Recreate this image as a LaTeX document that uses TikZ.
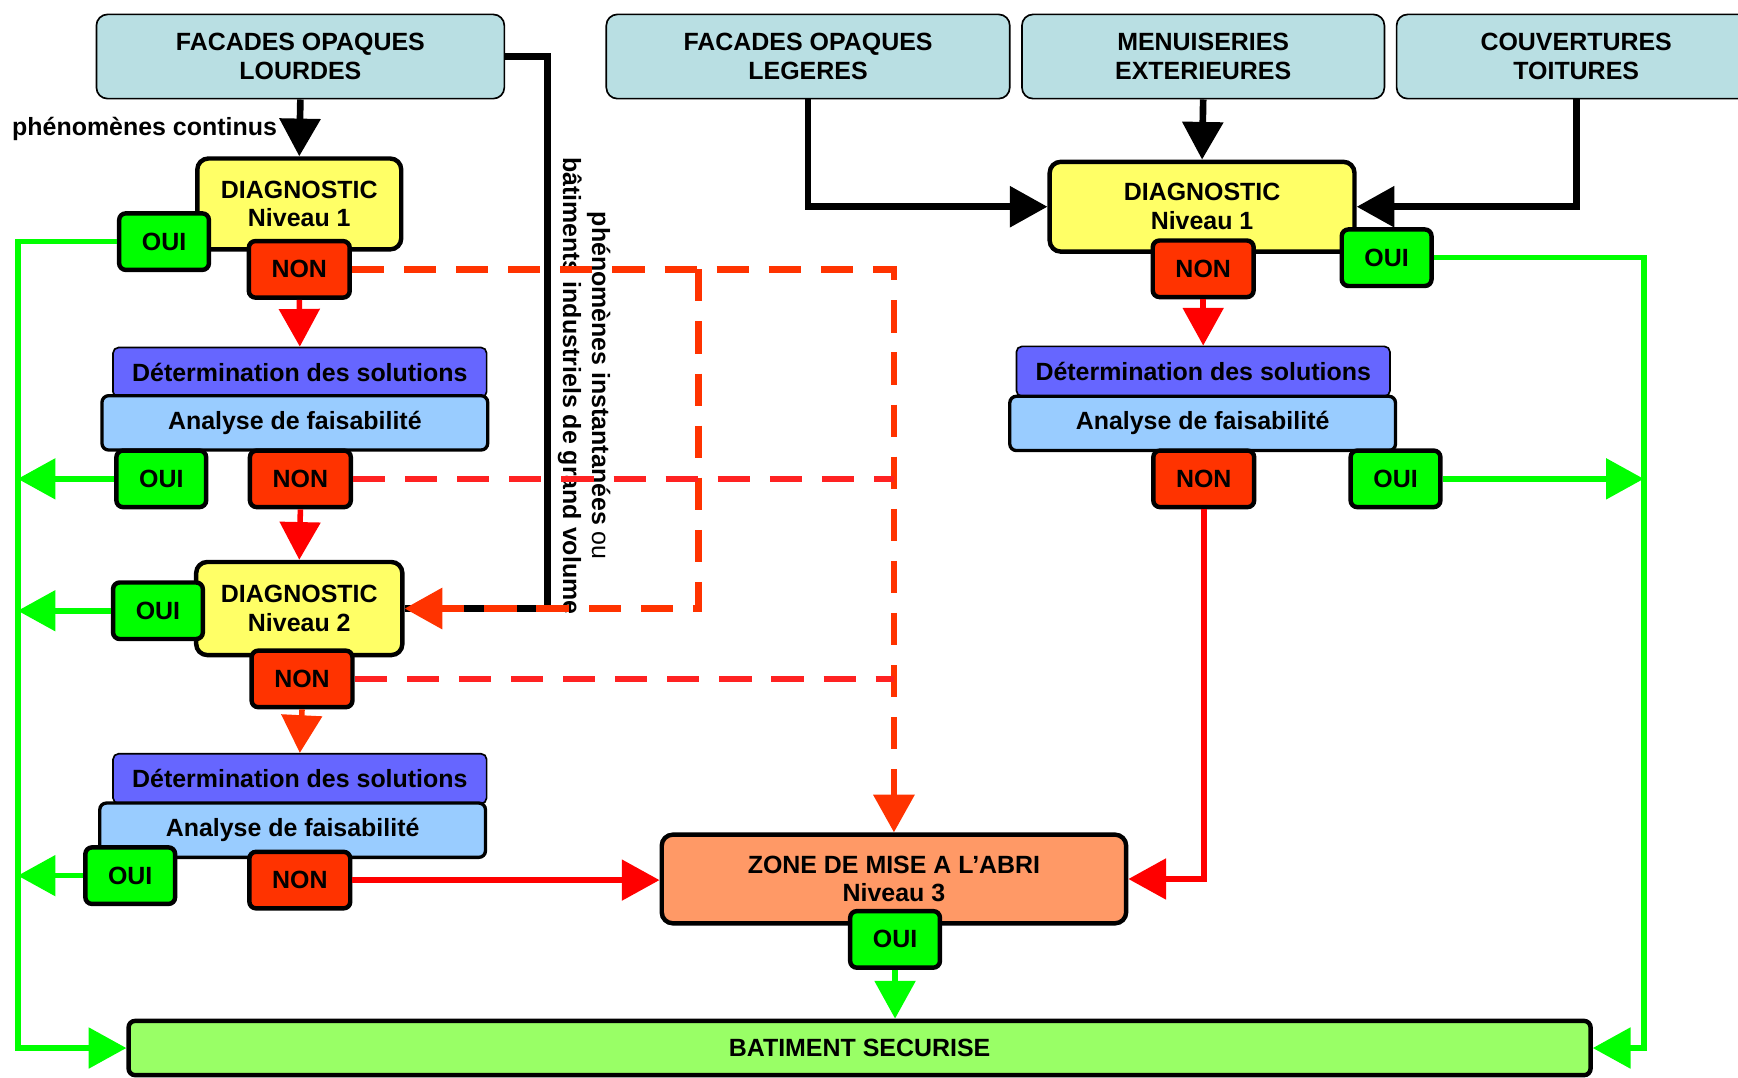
\documentclass[tikz,border=0pt]{standalone}
\usepackage{fontspec}
\setmainfont{Liberation Sans}
\usetikzlibrary{arrows.meta}
\definecolor{abricolor0001}{RGB}{185,223,227}
\definecolor{abricolor0002}{RGB}{255,255,102}
\definecolor{abricolor0003}{RGB}{0,255,0}
\definecolor{abricolor0004}{RGB}{255,51,0}
\definecolor{abricolor0005}{RGB}{102,102,255}
\definecolor{abricolor0006}{RGB}{153,204,255}
\definecolor{abricolor0007}{RGB}{255,153,102}
\definecolor{abricolor0008}{RGB}{153,255,102}
\definecolor{abricolor0009}{RGB}{255,0,0}
\definecolor{abricolor0010}{RGB}{255,34,34}
\newcommand{\diagfont}{\fontsize{22.5}{26}\selectfont\bfseries}

\begin{document}
\begin{tikzpicture}[x=1pt,y=-1pt
,>={Triangle[length=34pt,width=36pt]}
,bstyle0/.style={draw=black,line width=1.5pt,fill=abricolor0001,rounded corners=10pt,minimum height=76pt,inner sep=0pt,align=center,font=\diagfont}
,bstyle1/.style={draw=black,line width=4pt,fill=abricolor0002,rounded corners=10pt,inner sep=0pt,align=center,font=\diagfont}
,bstyle2/.style={draw=black,line width=4pt,fill=abricolor0003,rounded corners=6pt,minimum width=81pt,minimum height=51pt,inner sep=0pt,font=\diagfont}
,bstyle3/.style={draw=black,line width=4pt,fill=abricolor0004,rounded corners=6pt,minimum width=91pt,minimum height=51pt,inner sep=0pt,font=\diagfont}
,bstyle4/.style={draw=black,line width=1.5pt,fill=abricolor0005,rounded corners=5pt,minimum width=337pt,minimum height=45pt,inner sep=0pt,font=\diagfont}
,bstyle5/.style={draw=black,line width=3pt,fill=abricolor0006,rounded corners=6pt,minimum width=348pt,minimum height=49pt,inner sep=0pt,font=\diagfont}
,bstyle6/.style={draw=black,line width=4pt,fill=abricolor0007,rounded corners=10pt,inner sep=0pt,align=center,font=\diagfont}
,bstyle7/.style={draw=black,line width=4pt,fill=abricolor0008,rounded corners=6pt,inner sep=0pt,font=\diagfont}
,tstyle0/.style={inner sep=0pt,font=\diagfont}
,lstyle0/.style={draw=black,line width=6pt}
,lstyle1/.style={draw=abricolor0003,line width=5pt}
,lstyle2/.style={draw=abricolor0009,line width=5pt}
,lstyle3/.style={draw=abricolor0004,line width=6pt,dash pattern=on 29pt off 18pt}
,lstyle4/.style={draw=abricolor0010,line width=6pt,dash pattern=on 29pt off 18pt}
]
\useasboundingbox (0,0) rectangle (1568,972);
% boxes
\node[bstyle0,minimum width=368pt] (fl) at (271,51) {FACADES OPAQUES\\LOURDES};
\node[bstyle0,minimum width=364pt] (fle) at (729,51) {FACADES OPAQUES\\LEGERES};
\node[bstyle0,minimum width=327pt] (men) at (1085.5,51) {MENUISERIES\\EXTERIEURES};
\node[bstyle0,minimum width=324pt] (couv) at (1422,51) {COUVERTURES\\TOITURES};
\node[tstyle0,anchor=east] (lcont) at (250,116) {phénomènes continus};
\node[tstyle0,rotate=-90,align=center] (linst) at (527,348) {phénomènes instantanées {\mdseries ou}\\bâtiments industriels de grand volume};
\node[bstyle1,minimum width=184pt,minimum height=82pt] (diag1) at (270,184) {DIAGNOSTIC\\Niveau 1};
\node[bstyle2] (oui1) at (148,218) {OUI};
\node[bstyle3] (non1) at (270,243) {NON};
\node[bstyle4] (det1) at (270.5,336) {Détermination des solutions};
\node[bstyle5] (ana1) at (266,381.5) {Analyse de faisabilité};
\node[bstyle2] (oui2) at (145.5,432) {OUI};
\node[bstyle3] (non2) at (271,432) {NON};
\node[bstyle1,minimum width=186pt,minimum height=84pt] (diag2) at (270,549) {DIAGNOSTIC\\Niveau 2};
\node[bstyle2] (oui3) at (142.5,551) {OUI};
\node[bstyle3] (non3) at (272.5,612.5) {NON};
\node[bstyle4] (det2) at (270.5,702.5) {Détermination des solutions};
\node[bstyle5] (ana2) at (264,749) {Analyse de faisabilité};
\node[bstyle2] (oui4) at (117.5,790) {OUI};
\node[bstyle3] (non4) at (270.5,794) {NON};
\node[bstyle1,minimum width=275pt,minimum height=81pt] (diagr) at (1084.5,186.5) {DIAGNOSTIC\\Niveau 1};
\node[bstyle3] (nonr1) at (1085.5,242.5) {NON};
\node[bstyle2] (ouir1) at (1251,232.5) {OUI};
\node[bstyle4] (detr) at (1085.5,335) {Détermination des solutions};
\node[bstyle5] (anar) at (1085,382) {Analyse de faisabilité};
\node[bstyle3] (nonr2) at (1086,432) {NON};
\node[bstyle2] (ouir2) at (1259,432) {OUI};
\node[bstyle6,minimum width=419pt,minimum height=80pt] (zone) at (806.5,793) {ZONE DE MISE A L’ABRI\\Niveau 3};
\node[bstyle2] (ouiz) at (807.5,847.5) {OUI};
\node[bstyle7,minimum width=1319pt,minimum height=49pt] (bat) at (775.5,945.5) {BATIMENT SECURISE};
\coordinate (gl) at (16,0);
\coordinate (gr) at (1483,0);
\coordinate (bk) at (494,549);
\coordinate (dv) at (630,243);
% black
\draw[lstyle0,->] (fl.south) -- (diag1.north);
\draw[lstyle0] (fl.east) -| (bk) -- (diag2.east);
\draw[lstyle0,->] (fle.south) |- (diagr.west);
\draw[lstyle0,->] (men.south) -- (diagr.north);
\draw[lstyle0,->] (couv.south) |- (diagr.east);
% green
\draw[lstyle1,->] (oui1.west) -| (bat.west -| gl) -- (bat.west);
\draw[lstyle1,->] (oui2.west) -- (oui2.west -| gl);
\draw[lstyle1,->] (oui3.west) -- (oui3.west -| gl);
\draw[lstyle1,->] (oui4.west) -- (oui4.west -| gl);
\draw[lstyle1,->] (ouir1.east) -| (bat.east -| gr) -- (bat.east);
\draw[lstyle1,->] (ouir2.east) -- (ouir2.east -| gr);
\draw[lstyle1,->] (ouiz.south) -- (ouiz.south |- bat.north);
% red
\draw[lstyle2,->] (non1.south) -- (det1.north);
\draw[lstyle2,->] (non2.south) -- (diag2.north);
\draw[lstyle2,draw=abricolor0004,-{Triangle[length=34pt,width=36pt,fill=abricolor0004]}] (non3.south) -- (det2.north);
\draw[lstyle2,->] (non4.east) -- (non4.east -| zone.west);
\draw[lstyle2,->] (nonr1.south) -- (detr.north);
\draw[lstyle2,->] (nonr2.south) |- (zone.east);
% dashed
\draw[lstyle3,->] (non1.east) -| (zone.north);
\draw[lstyle3,->] (dv) |- (diag2.east);
\draw[lstyle4] (non2.east) -- (non2.east -| zone.north);
\draw[lstyle4] (non3.east) -- (non3.east -| zone.north);
\end{tikzpicture}
\end{document}
